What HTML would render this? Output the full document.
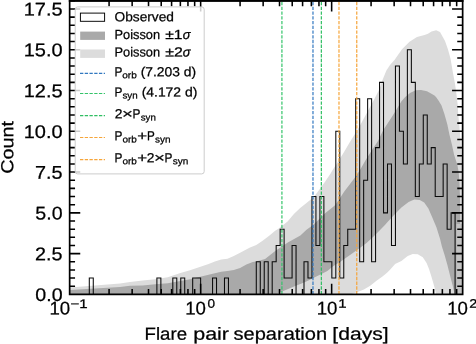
<!DOCTYPE html>
<html><head><meta charset="utf-8"><title>chart</title>
<style>html,body{margin:0;padding:0;background:#fff}svg{display:block}text{font-family:"Liberation Sans",sans-serif;fill:#000;stroke:#000;stroke-width:0.25px}</style></head><body>
<svg width="476" height="344" viewBox="0 0 476 344">
<rect width="476" height="344" fill="#fff"/>
<path d="M70.00,287.40 L95.00,285.40 L120.00,283.40 L130.00,281.95 L142.60,280.45 L155.20,279.20 L167.80,277.20 L180.40,272.90 L190.00,270.30 L196.00,268.20 L208.60,263.90 L214.90,261.50 L221.20,259.40 L227.50,258.65 L233.80,256.10 L240.10,252.80 L250.00,247.60 L256.30,245.00 L262.60,240.80 L268.90,236.00 L275.20,230.70 L278.80,228.50 L287.60,221.40 L293.90,213.90 L300.20,208.10 L306.50,202.90 L313.90,197.00 L318.90,190.20 L325.20,181.40 L330.30,174.10 L332.80,169.70 L337.60,162.40 L343.90,152.20 L350.20,141.60 L357.50,130.00 L362.20,121.50 L368.40,110.00 L374.00,99.80 L379.30,89.60 L382.70,79.40 L386.40,70.50 L390.20,64.80 L394.50,60.00 L402.00,49.15 L409.50,41.65 L417.00,36.90 L424.50,35.00 L428.00,33.80 L431.50,31.60 L436.20,30.20 L440.00,32.10 L445.00,40.90 L448.00,49.40 L450.60,58.90 L452.80,72.00 L455.00,83.70 L456.40,93.80 L457.60,104.00 L458.20,114.10 L459.20,124.30 L460.10,134.50 L460.80,144.60 L461.40,154.80 L462.00,165.40 L462.00,294.40 L436.20,294.40 L434.70,288.00 L433.00,282.00 L431.00,275.20 L429.10,269.20 L426.60,262.90 L422.80,257.20 L417.80,254.30 L412.70,254.00 L407.70,255.90 L401.40,261.00 L395.10,264.10 L390.50,269.30 L387.00,272.80 L382.80,276.30 L376.50,280.70 L370.20,285.70 L363.90,289.50 L357.60,292.00 L350.00,294.40 L70.00,294.40Z" fill="#dcdcdc"/>
<path d="M70.00,289.90 L95.00,288.40 L120.00,286.90 L130.00,285.85 L142.60,285.50 L155.20,284.20 L167.80,283.20 L180.40,281.10 L190.00,279.20 L196.00,277.80 L208.60,274.70 L221.20,271.70 L227.50,270.90 L233.80,269.90 L240.10,268.00 L246.40,264.60 L252.70,262.00 L256.00,261.40 L265.10,259.00 L275.20,251.10 L281.50,246.75 L287.80,242.40 L300.40,235.40 L306.50,229.80 L312.80,225.30 L319.10,219.20 L325.40,213.00 L331.70,208.10 L335.00,205.20 L339.10,199.60 L344.10,191.75 L350.40,183.55 L355.50,176.70 L360.30,169.50 L365.40,160.60 L371.70,150.60 L378.00,141.00 L383.00,130.40 L389.70,120.25 L396.20,109.90 L401.30,101.50 L405.00,97.30 L410.00,93.00 L415.70,90.20 L421.00,89.90 L427.00,91.15 L434.50,95.40 L436.00,97.10 L438.80,100.90 L441.50,105.40 L444.40,114.10 L447.30,124.30 L449.40,134.50 L451.90,144.60 L454.10,154.80 L457.40,164.90 L458.70,172.20 L459.50,183.00 L460.00,197.00 L460.30,215.00 L460.40,250.00 L460.40,294.40 L460.40,294.40 L454.60,294.40 L452.90,286.40 L450.30,276.40 L447.40,265.00 L444.60,255.00 L441.90,246.40 L440.10,239.00 L436.50,227.50 L432.30,217.50 L428.40,208.40 L424.20,202.50 L419.80,199.90 L414.30,199.60 L408.60,201.90 L401.40,207.50 L394.30,214.70 L387.10,222.40 L385.40,224.40 L379.10,231.10 L372.80,237.30 L366.50,243.00 L360.20,247.70 L352.50,253.30 L340.00,262.00 L336.60,264.00 L332.80,266.50 L327.30,271.10 L322.00,273.70 L316.80,276.30 L311.50,278.90 L306.30,281.60 L301.00,283.70 L295.80,285.80 L290.50,287.90 L282.10,291.50 L276.00,294.40 L70.00,294.40Z" fill="#a9a9a9"/>
<rect x="456.4" y="224" width="5.6" height="70.4" fill="#c2c2c2"/>
<path d="M89.30,294.40 L89.30,278.09 L93.28,278.09 L93.28,294.40 L97.25,294.40 L97.25,294.40 L101.23,294.40 L101.23,294.40 L105.20,294.40 L105.20,294.40 L109.18,294.40 L109.18,294.40 L113.16,294.40 L113.16,294.40 L117.13,294.40 L117.13,294.40 L121.11,294.40 L121.11,294.40 L125.08,294.40 L125.08,294.40 L129.06,294.40 L129.06,294.40 L133.04,294.40 L133.04,294.40 L137.01,294.40 L137.01,294.40 L140.99,294.40 L140.99,294.40 L144.96,294.40 L144.96,294.40 L148.94,294.40 L148.94,294.40 L152.92,294.40 L152.92,294.40 L156.89,294.40 L156.89,278.09 L160.87,278.09 L160.87,294.40 L164.84,294.40 L164.84,294.40 L168.82,294.40 L168.82,294.40 L172.80,294.40 L172.80,278.09 L176.77,278.09 L176.77,294.40 L180.75,294.40 L180.75,278.09 L184.72,278.09 L184.72,294.40 L188.70,294.40 L188.70,294.40 L192.68,294.40 L192.68,278.09 L196.65,278.09 L196.65,278.09 L200.63,278.09 L200.63,294.40 L204.60,294.40 L204.60,294.40 L208.58,294.40 L208.58,294.40 L212.56,294.40 L212.56,278.09 L216.53,278.09 L216.53,294.40 L220.51,294.40 L220.51,294.40 L224.48,294.40 L224.48,278.09 L228.46,278.09 L228.46,294.40 L232.44,294.40 L232.44,294.40 L236.41,294.40 L236.41,294.40 L240.39,294.40 L240.39,294.40 L244.36,294.40 L244.36,294.40 L248.34,294.40 L248.34,294.40 L252.32,294.40 L252.32,294.40 L256.29,294.40 L256.29,261.78 L260.27,261.78 L260.27,294.40 L264.24,294.40 L264.24,261.78 L268.22,261.78 L268.22,294.40 L272.20,294.40 L272.20,261.78 L276.17,261.78 L276.17,245.47 L280.15,245.47 L280.15,229.16 L284.12,229.16 L284.12,278.09 L288.10,278.09 L288.10,278.09 L292.08,278.09 L292.08,245.47 L296.05,245.47 L296.05,294.40 L300.03,294.40 L300.03,294.40 L304.00,294.40 L304.00,261.78 L307.98,261.78 L307.98,278.09 L311.96,278.09 L311.96,196.54 L315.93,196.54 L315.93,245.47 L319.91,245.47 L319.91,196.54 L323.88,196.54 L323.88,261.78 L327.86,261.78 L327.86,261.78 L331.84,261.78 L331.84,278.09 L335.81,278.09 L335.81,131.30 L339.79,131.30 L339.79,278.09 L343.76,278.09 L343.76,245.47 L347.74,245.47 L347.74,229.16 L351.72,229.16 L351.72,229.16 L355.69,229.16 L355.69,98.68 L359.67,98.68 L359.67,261.78 L363.64,261.78 L363.64,180.23 L367.62,180.23 L367.62,98.68 L371.60,98.68 L371.60,261.78 L375.57,261.78 L375.57,147.61 L379.55,147.61 L379.55,82.37 L383.52,82.37 L383.52,212.85 L387.50,212.85 L387.50,163.92 L391.48,163.92 L391.48,245.47 L395.45,245.47 L395.45,66.06 L399.43,66.06 L399.43,131.30 L403.40,131.30 L403.40,163.92 L407.38,163.92 L407.38,49.75 L411.36,49.75 L411.36,82.37 L415.33,82.37 L415.33,196.54 L419.31,196.54 L419.31,163.92 L423.28,163.92 L423.28,114.99 L427.26,114.99 L427.26,163.92 L431.24,163.92 L431.24,147.61 L435.21,147.61 L435.21,196.54 L439.19,196.54 L439.19,196.54 L443.16,196.54 L443.16,163.92 L447.14,163.92 L447.14,229.16 L451.12,229.16 L451.12,212.85 L455.09,212.85 L455.09,294.40" fill="none" stroke="#0a0a0a" stroke-width="1.05" stroke-linejoin="miter"/>
<line x1="281.92" x2="281.92" y1="294.4" y2="1" stroke="#35c46a" stroke-opacity="1.00" stroke-width="1.2" stroke-dasharray="3.31 1.43"/>
<line x1="312.98" x2="312.98" y1="294.4" y2="1" stroke="#3278c0" stroke-opacity="1.00" stroke-width="1.2" stroke-dasharray="3.31 1.43"/>
<line x1="321.35" x2="321.35" y1="294.4" y2="1" stroke="#2fbe62" stroke-opacity="1.00" stroke-width="1.2" stroke-dasharray="3.31 1.43"/>
<line x1="338.98" x2="338.98" y1="294.4" y2="1" stroke="#f6a53a" stroke-opacity="1.00" stroke-width="1.2" stroke-dasharray="3.31 1.43"/>
<line x1="356.76" x2="356.76" y1="294.4" y2="1" stroke="#f6a53a" stroke-opacity="1.00" stroke-width="1.2" stroke-dasharray="3.31 1.43"/>
<path d="M109.08,294.40 v-5.4 M109.08,0.80 v5.4 M132.15,294.40 v-5.4 M132.15,0.80 v5.4 M148.52,294.40 v-5.4 M148.52,0.80 v5.4 M161.22,294.40 v-5.4 M161.22,0.80 v5.4 M171.59,294.40 v-5.4 M171.59,0.80 v5.4 M180.36,294.40 v-5.4 M180.36,0.80 v5.4 M187.95,294.40 v-5.4 M187.95,0.80 v5.4 M194.66,294.40 v-5.4 M194.66,0.80 v5.4 M200.65,294.40 v-10.6 M200.65,0.80 v10.6 M240.08,294.40 v-5.4 M240.08,0.80 v5.4 M263.15,294.40 v-5.4 M263.15,0.80 v5.4 M279.52,294.40 v-5.4 M279.52,0.80 v5.4 M292.22,294.40 v-5.4 M292.22,0.80 v5.4 M302.59,294.40 v-5.4 M302.59,0.80 v5.4 M311.36,294.40 v-5.4 M311.36,0.80 v5.4 M318.95,294.40 v-5.4 M318.95,0.80 v5.4 M325.66,294.40 v-5.4 M325.66,0.80 v5.4 M331.65,294.40 v-10.6 M331.65,0.80 v10.6 M371.08,294.40 v-5.4 M371.08,0.80 v5.4 M394.15,294.40 v-5.4 M394.15,0.80 v5.4 M410.52,294.40 v-5.4 M410.52,0.80 v5.4 M423.22,294.40 v-5.4 M423.22,0.80 v5.4 M433.59,294.40 v-5.4 M433.59,0.80 v5.4 M442.36,294.40 v-5.4 M442.36,0.80 v5.4 M449.95,294.40 v-5.4 M449.95,0.80 v5.4 M456.66,294.40 v-5.4 M456.66,0.80 v5.4 M69.65,286.25 h5.4 M462.65,286.25 h-5.4 M69.65,278.09 h5.4 M462.65,278.09 h-5.4 M69.65,269.94 h5.4 M462.65,269.94 h-5.4 M69.65,261.78 h5.4 M462.65,261.78 h-5.4 M69.65,253.62 h10.6 M462.65,253.62 h-10.6 M69.65,245.47 h5.4 M462.65,245.47 h-5.4 M69.65,237.31 h5.4 M462.65,237.31 h-5.4 M69.65,229.16 h5.4 M462.65,229.16 h-5.4 M69.65,221.00 h5.4 M462.65,221.00 h-5.4 M69.65,212.85 h10.6 M462.65,212.85 h-10.6 M69.65,204.69 h5.4 M462.65,204.69 h-5.4 M69.65,196.54 h5.4 M462.65,196.54 h-5.4 M69.65,188.38 h5.4 M462.65,188.38 h-5.4 M69.65,180.23 h5.4 M462.65,180.23 h-5.4 M69.65,172.07 h10.6 M462.65,172.07 h-10.6 M69.65,163.92 h5.4 M462.65,163.92 h-5.4 M69.65,155.76 h5.4 M462.65,155.76 h-5.4 M69.65,147.61 h5.4 M462.65,147.61 h-5.4 M69.65,139.45 h5.4 M462.65,139.45 h-5.4 M69.65,131.30 h10.6 M462.65,131.30 h-10.6 M69.65,123.14 h5.4 M462.65,123.14 h-5.4 M69.65,114.99 h5.4 M462.65,114.99 h-5.4 M69.65,106.83 h5.4 M462.65,106.83 h-5.4 M69.65,98.68 h5.4 M462.65,98.68 h-5.4 M69.65,90.53 h10.6 M462.65,90.53 h-10.6 M69.65,82.37 h5.4 M462.65,82.37 h-5.4 M69.65,74.22 h5.4 M462.65,74.22 h-5.4 M69.65,66.06 h5.4 M462.65,66.06 h-5.4 M69.65,57.91 h5.4 M462.65,57.91 h-5.4 M69.65,49.75 h10.6 M462.65,49.75 h-10.6 M69.65,41.59 h5.4 M462.65,41.59 h-5.4 M69.65,33.44 h5.4 M462.65,33.44 h-5.4 M69.65,25.29 h5.4 M462.65,25.29 h-5.4 M69.65,17.13 h5.4 M462.65,17.13 h-5.4 M69.65,8.98 h10.6 M462.65,8.98 h-10.6 M69.65,0.82 h5.4 M462.65,0.82 h-5.4" stroke="#000" stroke-width="1.55" fill="none"/>
<path d="M69.65,0 V294.40 H462.65 V0" stroke="#000" stroke-width="1.7" fill="none" stroke-linejoin="miter"/>
<rect x="68.80" y="0" width="394.70" height="1.9" fill="#000"/>
<rect x="75.2" y="6.9" width="129" height="167" rx="2.5" ry="2.5" fill="#fff" fill-opacity="0.8" stroke="#ccc" stroke-width="1"/>
<rect x="80.4" y="13.1" width="24.2" height="8.2" fill="#fff" stroke="#000" stroke-width="0.95"/>
<rect x="80.2" y="31.6" width="24.8" height="8.3" fill="#a9a9a9"/>
<rect x="80.2" y="49.5" width="24.8" height="8.4" fill="#dcdcdc"/>
<line x1="80" x2="105" y1="73.4" y2="73.4" stroke="#3278c0" stroke-opacity="1.00" stroke-width="1.1" stroke-dasharray="3.31 1.43"/>
<line x1="80" x2="105" y1="93.5" y2="93.5" stroke="#35c46a" stroke-opacity="1.00" stroke-width="1.1" stroke-dasharray="3.31 1.43"/>
<line x1="80" x2="105" y1="115.6" y2="115.6" stroke="#2fbe62" stroke-opacity="1.00" stroke-width="1.1" stroke-dasharray="3.31 1.43"/>
<line x1="80" x2="105" y1="137.5" y2="137.5" stroke="#f6a53a" stroke-opacity="1.00" stroke-width="1.1" stroke-dasharray="3.31 1.43"/>
<line x1="80" x2="105" y1="159.6" y2="159.6" stroke="#f6a53a" stroke-opacity="1.00" stroke-width="1.1" stroke-dasharray="3.31 1.43"/>
<mask id="m" maskUnits="userSpaceOnUse" x="0" y="0" width="476" height="344"><rect width="476" height="344" fill="#fff"/></mask><g mask="url(#m)">
<g transform="translate(0.2,0.1)">
<text transform="translate(114.35,21.10) rotate(0.04)" font-size="13.20" textLength="59.41" lengthAdjust="spacingAndGlyphs">Observed</text>
<text transform="translate(114.35,38.90) rotate(0.04)" font-size="13.20" textLength="45.49" lengthAdjust="spacingAndGlyphs">Poisson</text>
<text transform="translate(164.99,38.90) rotate(0.04)" font-size="13.20" textLength="17.36" lengthAdjust="spacingAndGlyphs">±1</text>
<text transform="translate(182.58,38.90) rotate(0.04)" font-size="13.20" textLength="7.71" lengthAdjust="spacingAndGlyphs" font-style="italic">σ</text>
<text transform="translate(114.35,56.40) rotate(0.04)" font-size="13.20" textLength="45.49" lengthAdjust="spacingAndGlyphs">Poisson</text>
<text transform="translate(164.98,56.40) rotate(0.04)" font-size="13.20" textLength="17.62" lengthAdjust="spacingAndGlyphs">±2</text>
<text transform="translate(182.58,56.40) rotate(0.04)" font-size="13.20" textLength="7.71" lengthAdjust="spacingAndGlyphs" font-style="italic">σ</text>
<text transform="translate(114.42,76.10) rotate(0.04)" font-size="13.20" textLength="7.89" lengthAdjust="spacingAndGlyphs">P</text>
<text transform="translate(122.07,78.20) rotate(0.04)" font-size="9.30" textLength="14.53" lengthAdjust="spacingAndGlyphs">orb</text>
<text transform="translate(140.43,76.10) rotate(0.04)" font-size="13.20" textLength="55.54" lengthAdjust="spacingAndGlyphs">(7.203 d)</text>
<text transform="translate(114.42,96.30) rotate(0.04)" font-size="13.20" textLength="7.89" lengthAdjust="spacingAndGlyphs">P</text>
<text transform="translate(122.23,98.40) rotate(0.04)" font-size="9.30" textLength="15.22" lengthAdjust="spacingAndGlyphs">syn</text>
<text transform="translate(141.43,96.30) rotate(0.04)" font-size="13.20" textLength="55.74" lengthAdjust="spacingAndGlyphs">(4.172 d)</text>
<text transform="translate(114.51,118.20) rotate(0.04)" font-size="13.20" textLength="7.70" lengthAdjust="spacingAndGlyphs">2</text>
<text transform="translate(121.69,118.20) rotate(0.04)" font-size="13.20" textLength="10.89" lengthAdjust="spacingAndGlyphs">×</text>
<text transform="translate(132.42,118.20) rotate(0.04)" font-size="13.20" textLength="7.89" lengthAdjust="spacingAndGlyphs">P</text>
<text transform="translate(140.53,120.30) rotate(0.04)" font-size="9.30" textLength="15.11" lengthAdjust="spacingAndGlyphs">syn</text>
<text transform="translate(114.22,140.20) rotate(0.04)" font-size="13.20" textLength="7.89" lengthAdjust="spacingAndGlyphs">P</text>
<text transform="translate(122.18,142.30) rotate(0.04)" font-size="9.30" textLength="14.43" lengthAdjust="spacingAndGlyphs">orb</text>
<text transform="translate(136.95,140.20) rotate(0.04)" font-size="13.20" textLength="9.87" lengthAdjust="spacingAndGlyphs">+</text>
<text transform="translate(146.74,140.20) rotate(0.04)" font-size="13.20" textLength="7.77" lengthAdjust="spacingAndGlyphs">P</text>
<text transform="translate(154.73,142.30) rotate(0.04)" font-size="9.30" textLength="15.54" lengthAdjust="spacingAndGlyphs">syn</text>
<text transform="translate(114.22,162.10) rotate(0.04)" font-size="13.20" textLength="7.89" lengthAdjust="spacingAndGlyphs">P</text>
<text transform="translate(122.18,164.20) rotate(0.04)" font-size="9.30" textLength="14.43" lengthAdjust="spacingAndGlyphs">orb</text>
<text transform="translate(136.95,162.10) rotate(0.04)" font-size="13.20" textLength="9.87" lengthAdjust="spacingAndGlyphs">+</text>
<text transform="translate(146.51,162.10) rotate(0.04)" font-size="13.20" textLength="7.70" lengthAdjust="spacingAndGlyphs">2</text>
<text transform="translate(153.69,162.10) rotate(0.04)" font-size="13.20" textLength="10.89" lengthAdjust="spacingAndGlyphs">×</text>
<text transform="translate(164.42,162.10) rotate(0.04)" font-size="13.20" textLength="7.89" lengthAdjust="spacingAndGlyphs">P</text>
<text transform="translate(172.53,164.20) rotate(0.04)" font-size="9.30" textLength="15.54" lengthAdjust="spacingAndGlyphs">syn</text>
</g>
<text transform="translate(35.32,301.00) rotate(0.04)" font-size="18.40" textLength="27.22" lengthAdjust="spacingAndGlyphs" stroke-width="0.4">0.0</text>
<text transform="translate(35.11,260.22) rotate(0.04)" font-size="18.40" textLength="27.48" lengthAdjust="spacingAndGlyphs" stroke-width="0.4">2.5</text>
<text transform="translate(35.32,219.45) rotate(0.04)" font-size="18.40" textLength="27.22" lengthAdjust="spacingAndGlyphs" stroke-width="0.4">5.0</text>
<text transform="translate(35.06,178.67) rotate(0.04)" font-size="18.40" textLength="27.54" lengthAdjust="spacingAndGlyphs" stroke-width="0.4">7.5</text>
<text transform="translate(23.70,137.90) rotate(0.04)" font-size="18.40" textLength="38.87" lengthAdjust="spacingAndGlyphs" stroke-width="0.4">10.0</text>
<text transform="translate(23.70,97.12) rotate(0.04)" font-size="18.40" textLength="38.93" lengthAdjust="spacingAndGlyphs" stroke-width="0.4">12.5</text>
<text transform="translate(23.70,56.35) rotate(0.04)" font-size="18.40" textLength="38.87" lengthAdjust="spacingAndGlyphs" stroke-width="0.4">15.0</text>
<text transform="translate(23.70,15.58) rotate(0.04)" font-size="18.40" textLength="38.93" lengthAdjust="spacingAndGlyphs" stroke-width="0.4">17.5</text>
<text transform="translate(49.50,314.60) rotate(0.04)" font-size="18.40" textLength="20.74" lengthAdjust="spacingAndGlyphs" stroke-width="0.4">10</text>
<text transform="translate(70.49,308.00) rotate(0.04)" font-size="12.40" textLength="17.23" lengthAdjust="spacingAndGlyphs">−1</text>
<text transform="translate(185.25,314.60) rotate(0.04)" font-size="18.40" textLength="20.74" lengthAdjust="spacingAndGlyphs" stroke-width="0.4">10</text>
<text transform="translate(207.46,307.80) rotate(0.04)" font-size="12.40" textLength="7.57" lengthAdjust="spacingAndGlyphs">0</text>
<text transform="translate(316.75,314.60) rotate(0.04)" font-size="18.40" textLength="20.74" lengthAdjust="spacingAndGlyphs" stroke-width="0.4">10</text>
<text transform="translate(338.37,307.80) rotate(0.04)" font-size="12.40" textLength="8.36" lengthAdjust="spacingAndGlyphs">1</text>
<text transform="translate(447.25,314.60) rotate(0.04)" font-size="18.40" textLength="20.74" lengthAdjust="spacingAndGlyphs" stroke-width="0.4">10</text>
<text transform="translate(469.29,307.80) rotate(0.04)" font-size="12.40" textLength="7.95" lengthAdjust="spacingAndGlyphs">2</text>
<text transform="translate(144.56,339.75) rotate(0.04)" font-size="17.50" textLength="42.45" lengthAdjust="spacingAndGlyphs" stroke-width="0.4">Flare</text>
<text transform="translate(193.20,339.75) rotate(0.04)" font-size="17.50" textLength="35.82" lengthAdjust="spacingAndGlyphs" stroke-width="0.4">pair</text>
<text transform="translate(233.55,339.75) rotate(0.04)" font-size="17.50" textLength="93.55" lengthAdjust="spacingAndGlyphs" stroke-width="0.4">separation</text>
<text transform="translate(332.37,339.75) rotate(0.04)" font-size="17.50" textLength="56.21" lengthAdjust="spacingAndGlyphs" stroke-width="0.4">[days]</text>
<text transform="translate(13.3,173.79) rotate(-89.96)" font-size="17.50" textLength="52.76" lengthAdjust="spacingAndGlyphs" stroke-width="0.4">Count</text>
</g>
</svg></body></html>
